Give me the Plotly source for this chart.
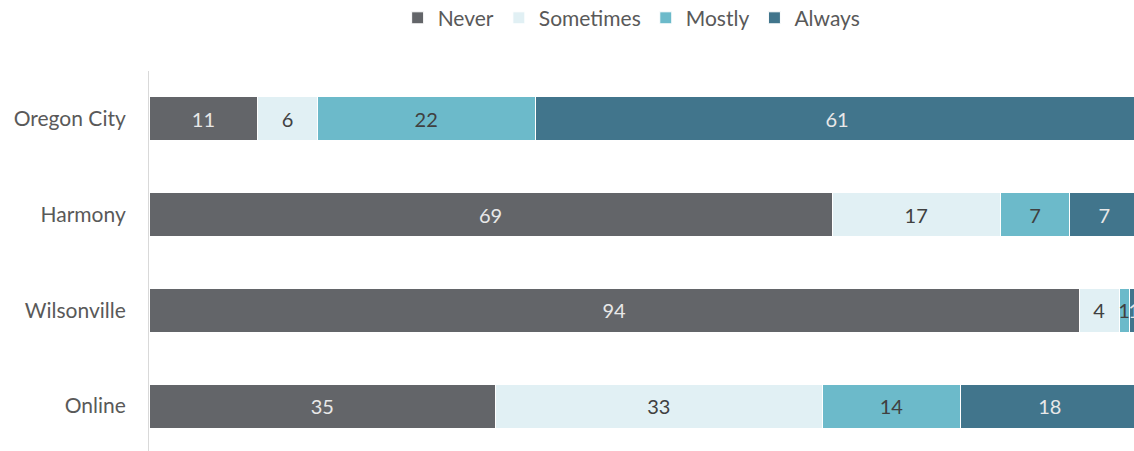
import plotly.graph_objects as go

locations = ["Oregon City", "Harmony", "Wilsonville", "Online"]
series_names = ["Never", "Sometimes", "Mostly", "Always"]
never = [11, 69, 94, 35]
sometimes = [6, 17, 4, 33]
mostly = [22, 7, 1, 14]
always = [61, 7, 1, 18]

colors = ["#636569", "#e1f0f4", "#6cbaca", "#41758c"]
text_colors = ["#e8e8e8", "#404040", "#404040", "#e8e8e8"]

fig = go.Figure()
for name, vals, col, tcol in zip(series_names, [never, sometimes, mostly, always], colors, text_colors):
    fig.add_trace(go.Bar(
        name=name,
        y=locations,
        x=vals,
        orientation="h",
        marker=dict(color=col, line=dict(color="white", width=1)),
        text=[str(v) for v in vals],
        textposition="inside",
        insidetextanchor="middle",
        textangle=0,
        textfont=dict(family="Lato, Open Sans, sans-serif", size=20, color=tcol),
        cliponaxis=True,
    ))

fig.update_layout(
    barmode="stack",
    bargap=0.54,
    width=1134,
    height=451,
    margin=dict(l=149, r=0, t=71, b=0, autoexpand=False),
    paper_bgcolor="white",
    plot_bgcolor="white",
    uniformtext=dict(minsize=20, mode="show"),
    font=dict(family="Lato, Open Sans, sans-serif", size=21, color="#595959"),
    legend=dict(
        orientation="h",
        x=0.49, xanchor="center",
        y=1.193, yanchor="top",
        font=dict(size=21, color="#595959"),
        traceorder="normal",
        itemwidth=30,
    ),
    showlegend=True,
)
fig.update_xaxes(range=[0, 99.5], visible=False)
fig.update_yaxes(
    categoryorder="array",
    categoryarray=locations[::-1],
    range=[-0.47, 3.5],
    showline=True,
    linecolor="#d9d9d9",
    linewidth=1,
    showgrid=False,
    ticks="",
    ticklabelstandoff=18,
    tickfont=dict(size=21, color="#595959"),
)

fig.write_html("out.html")
